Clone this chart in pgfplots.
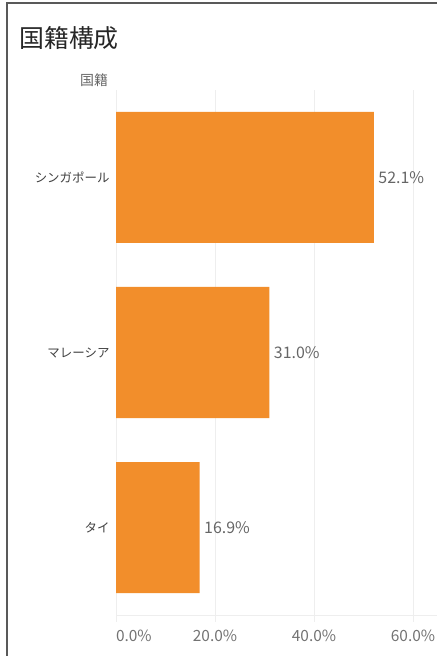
\documentclass[border=0pt]{standalone}
\usepackage{pgfplots}
\pgfplotsset{compat=1.18}
\usepackage{fontspec}
\setmainfont{Noto Sans CJK JP}
\definecolor{barorange}{HTML}{F28E2B}
\definecolor{gridgray}{HTML}{EEEEEE}
\begin{document}
\begin{tikzpicture}[x=1bp,y=1bp]
\path[use as bounding box] (0,0) rectangle (437,656);
\draw[color=black!65, line width=2bp] (7,0) -- (7,653) -- (437,653);
\node[anchor=west, inner sep=0pt, font=\fontsize{25}{25}\selectfont, text=black!85] at (19,618) {国籍構成};
\node[inner sep=0pt, font=\fontsize{14}{14}\selectfont, text=black!60] at (94,576) {国籍};
\begin{axis}[
  at={(116bp,41bp)}, anchor=south west,
  scale only axis, width=321bp, height=525bp,
  xmin=0, xmax=64.85, ymin=-0.5, ymax=2.5,
  y dir=reverse,
  enlargelimits=false, clip=false,
  xbar, bar width=131bp, bar shift=0pt,
  axis x line*=bottom, axis y line*=left,
  x axis line style={draw=gridgray, line width=1bp},
  y axis line style={draw=none},
  xtick={0,20,40,60},
  xticklabels={\makebox[0pt][l]{0.0\%},20.0\%,40.0\%,60.0\%},
  xmajorgrids, major grid style={draw=gridgray, line width=1bp},
  tick align=outside, major tick length=7bp,
  xtick style={draw=gridgray, line width=1bp},
  ytick={0,1,2},
  yticklabels={シンガポール,マレーシア,タイ},
  ytick style={draw=none},
  xticklabel style={font=\fontsize{15.5}{15.5}\selectfont, text=black!55, yshift=-4bp},
  yticklabel style={font=\fontsize{12.5}{12.5}\selectfont, text=black!75, xshift=4bp},
  /pgf/number format/assume math mode=true,
  nodes near coords={\pgfmathprintnumber[fixed,fixed zerofill,precision=1]{\pgfplotspointmeta}\%},
  nodes near coords style={font=\fontsize{16}{16}\selectfont, text=black!60, anchor=west, xshift=1bp},
  point meta=explicit,
]
\addplot[fill=barorange, draw=none] coordinates {(52.1,0) [52.1] (31.0,1) [31.0] (16.9,2) [16.9]};
\end{axis}
\end{tikzpicture}
\end{document}
